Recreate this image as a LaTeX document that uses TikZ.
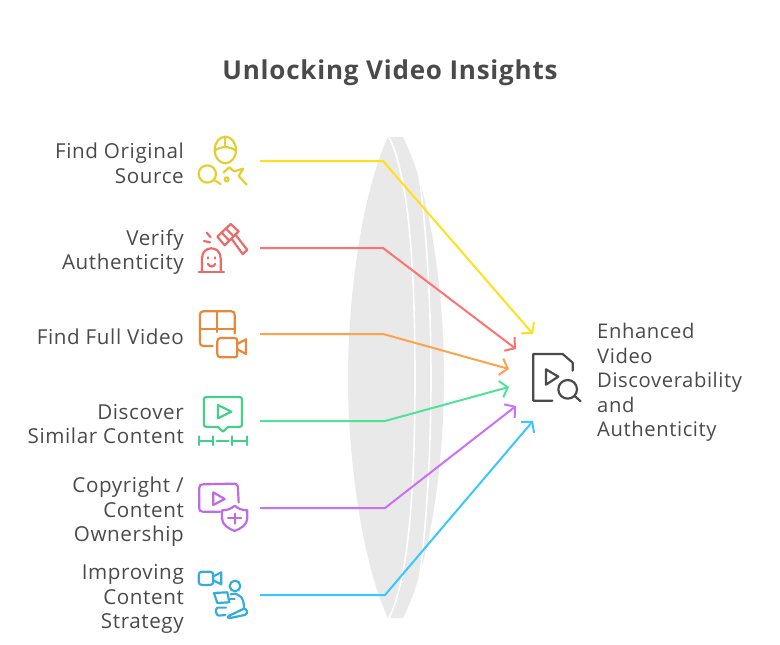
\documentclass[tikz,border=0pt]{standalone}
\usepackage{fontspec}
\setmainfont{Open Sans}[LetterSpace=3]
\usetikzlibrary{arrows.meta}
\definecolor{lensgrey}{HTML}{E9E9E9}
\definecolor{textgrey}{HTML}{4A4A4A}
\definecolor{lineyellow}{HTML}{FFE01B}
\definecolor{linered}{HTML}{FF7272}
\definecolor{lineorange}{HTML}{FFA24D}
\definecolor{linegreen}{HTML}{4FE39A}
\definecolor{linepurple}{HTML}{CC70F5}
\definecolor{lineblue}{HTML}{38C8FF}
\definecolor{iconyellow}{HTML}{E3D030}
\definecolor{iconred}{HTML}{EC6A6A}
\definecolor{iconorange}{HTML}{E8893A}
\definecolor{icongreen}{HTML}{45CF8A}
\definecolor{iconpurple}{HTML}{BF6BE8}
\definecolor{iconblue}{HTML}{35ACE0}
\tikzset{
    every node/.style={inner sep=0pt, text=textgrey},
    leftlabel/.style={anchor=east, align=right, font=\fontsize{20.6}{24.6}\selectfont},
    rightlabel/.style={anchor=west, align=left, font=\fontsize{20.2}{24.6}\selectfont},
    titlelabel/.style={font=\fontsize{26}{30}\selectfont\bfseries},
    link/.style={line width=2pt, line join=round, -{Straight Barb[length=7pt,width=17pt,line width=2pt]}},
    icon/.style={line width=2.2pt, line cap=round, line join=round}
}
\begin{document}
\begin{tikzpicture}[x=1pt,y=-1pt]
  \useasboundingbox (0,0) rectangle (780,645);
  \node (title) [titlelabel] at (390,72.5) {Unlocking Video Insights};

  % lens
  \fill [lensgrey] (388,137) -- (403,137) .. controls (430,190) and (444,290) .. (444,378)
    .. controls (444,466) and (430,565) .. (403,618) -- (388,618)
    .. controls (365,570) and (348,470) .. (348,378) .. controls (348,285) and (365,185) .. (388,137) -- cycle;
  \draw [white, line width=1.6pt] (389,137) .. controls (408,175) and (415,260) .. (415,378)
    .. controls (415,496) and (408,580) .. (389,618);
  \draw [white, line width=1.6pt] (417,160) .. controls (426,220) and (431,300) .. (431,378)
    .. controls (431,456) and (426,536) .. (417,596);

  \node (find) [leftlabel] at (184,163.5) {Find Original\\Source};
  \node (verify) [leftlabel] at (184,252) {Verify\\Authenticity};
  \node (full) [leftlabel] at (184,337) {Find Full Video};
  \node (similar) [leftlabel] at (184,424) {Discover\\Similar Content};
  \node (owner) [leftlabel] at (184,512) {Copyright /\\Content\\Ownership};
  \node (strategy) [leftlabel] at (184,599) {Improving\\Content\\Strategy};
  \node (result) [rightlabel] at (597,382.5) {Enhanced\\Video\\Discoverability\\and\\Authenticity};

  \coordinate (s1) at (260,161);
  \coordinate (b1) at (383,161);
  \coordinate (e1) at (533,334);
  \coordinate (s2) at (260,248);
  \coordinate (b2) at (383,248);
  \coordinate (e2) at (516,349);
  \coordinate (s3) at (260,334);
  \coordinate (b3) at (383,334);
  \coordinate (e3) at (509,369);
  \coordinate (s4) at (260,421);
  \coordinate (b4) at (385,421);
  \coordinate (e4) at (509,387);
  \coordinate (s5) at (260,508);
  \coordinate (b5) at (385,508);
  \coordinate (e5) at (516,406);
  \coordinate (s6) at (260,595);
  \coordinate (b6) at (385,595);
  \coordinate (e6) at (533,421);

  \draw [link, lineyellow] (s1) -- (b1) -- (e1);
  \draw [link, linered] (s2) -- (b2) -- (e2);
  \draw [link, lineorange] (s3) -- (b3) -- (e3);
  \draw [link, linegreen] (s4) -- (b4) -- (e4);
  \draw [link, linepurple] (s5) -- (b5) -- (e5);
  \draw [link, lineblue] (s6) -- (b6) -- (e6);

  % icons, in zoomed pixels
  \begin{scope}[shift={(190,130)}, x=0.3333pt, y=-0.3333pt, icon, iconyellow]
    \draw (106,60) ellipse [x radius=32, y radius=40];
    \draw (74,62) .. controls (92,48) and (120,48) .. (138,62);
    \draw (106,22) -- (106,50);
    \draw (52,132) circle [radius=26];
    \draw (72,150) -- (92,162);
    \draw (100,128) -- (118,112) -- (132,124) -- (160,116) -- (146,138) -- (170,164);
    \draw (110,148) circle [radius=6];
  \end{scope}
  \begin{scope}[shift={(190,130)}, x=0.3333pt, y=-0.3333pt, icon, iconred]
    \draw (26,425) -- (102,425);
    \draw (36,425) -- (36,385) .. controls (36,345) and (92,345) .. (92,385) -- (92,425);
    \draw (54,382) -- (54,386);
    \draw (76,382) -- (76,386);
    \draw (54,402) .. controls (60,412) and (70,412) .. (76,402);
    \draw (42,333) -- (60,337);
    \draw (50,308) -- (62,322);
    \draw (82,320) -- (122,282) -- (146,304) -- (104,346) -- cycle;
    \draw (95,308) -- (118,332);
    \draw (108,296) -- (130,318);
    \draw (126,328) -- (158,372) -- (172,360) -- (138,316);
  \end{scope}
  \begin{scope}[shift={(190,130)}, x=0.3333pt, y=-0.3333pt, icon, iconorange]
    \draw (68,648) -- (40,648) .. controls (32,648) and (30,644) .. (30,636) -- (30,556)
      .. controls (30,548) and (32,544) .. (40,544) -- (124,544)
      .. controls (132,544) and (134,548) .. (134,556) -- (134,610);
    \draw (30,598) -- (134,598);
    \draw (82,544) -- (82,606);
    \draw (92,624) -- (134,624) .. controls (140,624) and (142,628) .. (142,634) -- (142,672)
      .. controls (142,678) and (140,682) .. (134,682) -- (92,682)
      .. controls (86,682) and (82,678) .. (82,672) -- (82,634) .. controls (82,628) and (86,624) .. (92,624) -- cycle;
    \draw (142,642) -- (168,628) -- (168,672) -- (142,658);
  \end{scope}
  \begin{scope}[shift={(190,385)}, x=0.3333pt, y=-0.3333pt, icon, icongreen]
    \draw (84,126) -- (50,126) .. controls (44,126) and (42,122) .. (42,118) -- (42,44)
      .. controls (42,38) and (44,36) .. (50,36) -- (148,36)
      .. controls (154,36) and (156,38) .. (156,44) -- (156,118)
      .. controls (156,122) and (154,126) .. (148,126) -- (114,126) -- (99,140) -- cycle;
    \draw (84,60) -- (124,80) -- (84,100) -- cycle;
    \draw (26,154) -- (26,180);
    \draw (70,154) -- (70,180);
    \draw (26,167) -- (70,167);
    \draw (80,167) -- (116,167);
    \draw (126,154) -- (126,180);
    \draw (170,154) -- (170,180);
    \draw (126,167) -- (170,167);
  \end{scope}
  \begin{scope}[shift={(190,385)}, x=0.3333pt, y=-0.3333pt, icon, iconpurple]
    \draw (90,380) -- (38,380) .. controls (30,380) and (28,376) .. (28,370) -- (28,308)
      .. controls (28,300) and (32,298) .. (40,298) -- (130,296)
      .. controls (140,296) and (144,300) .. (144,310) -- (146,352);
    \draw (70,322) -- (104,342) -- (70,360) -- cycle;
    \draw (96,376) .. controls (115,376) and (125,370) .. (134,362)
      .. controls (143,370) and (155,376) .. (172,376) -- (172,400)
      .. controls (172,420) and (150,432) .. (134,438)
      .. controls (118,432) and (96,420) .. (96,400) -- cycle;
    \draw (134,386) -- (134,416);
    \draw (114,400) -- (154,400);
  \end{scope}
  \begin{scope}[shift={(190,385)}, x=0.3333pt, y=-0.3333pt, icon, iconblue]
    \draw (36,560) -- (60,560) .. controls (66,560) and (70,564) .. (70,570) -- (70,590)
      .. controls (70,596) and (66,600) .. (60,600) -- (36,600)
      .. controls (30,600) and (26,596) .. (26,590) -- (26,570) .. controls (26,564) and (30,560) .. (36,560) -- cycle;
    \draw (70,574) -- (94,562) -- (94,598) -- (70,586);
    \draw (135,603) circle [radius=16];
    \draw (72,624) -- (112,622) -- (118,652) -- (82,654) -- cycle;
    \draw (118,642) -- (134,642);
    \draw (122,628) .. controls (150,622) and (162,640) .. (162,668);
    \draw (108,668) -- (82,668) .. controls (76,672) and (76,690) .. (86,692) -- (106,690);
    \draw (118,692) -- (160,672) .. controls (172,668) and (176,688) .. (164,690)
      -- (126,698) .. controls (114,702) and (110,696) .. (118,692) -- cycle;
  \end{scope}
  \begin{scope}[shift={(490,310)}, x=0.3333pt, y=-0.3333pt, icon, textgrey]
    \draw (187,272) -- (130,272) -- (130,132) -- (218,132) -- (248,158) -- (248,182);
    \draw (168,178) -- (205,200) -- (168,224) -- cycle;
    \draw (233,238) circle [radius=28];
    \draw (254,258) -- (272,274);
  \end{scope}
\end{tikzpicture}
\end{document}
